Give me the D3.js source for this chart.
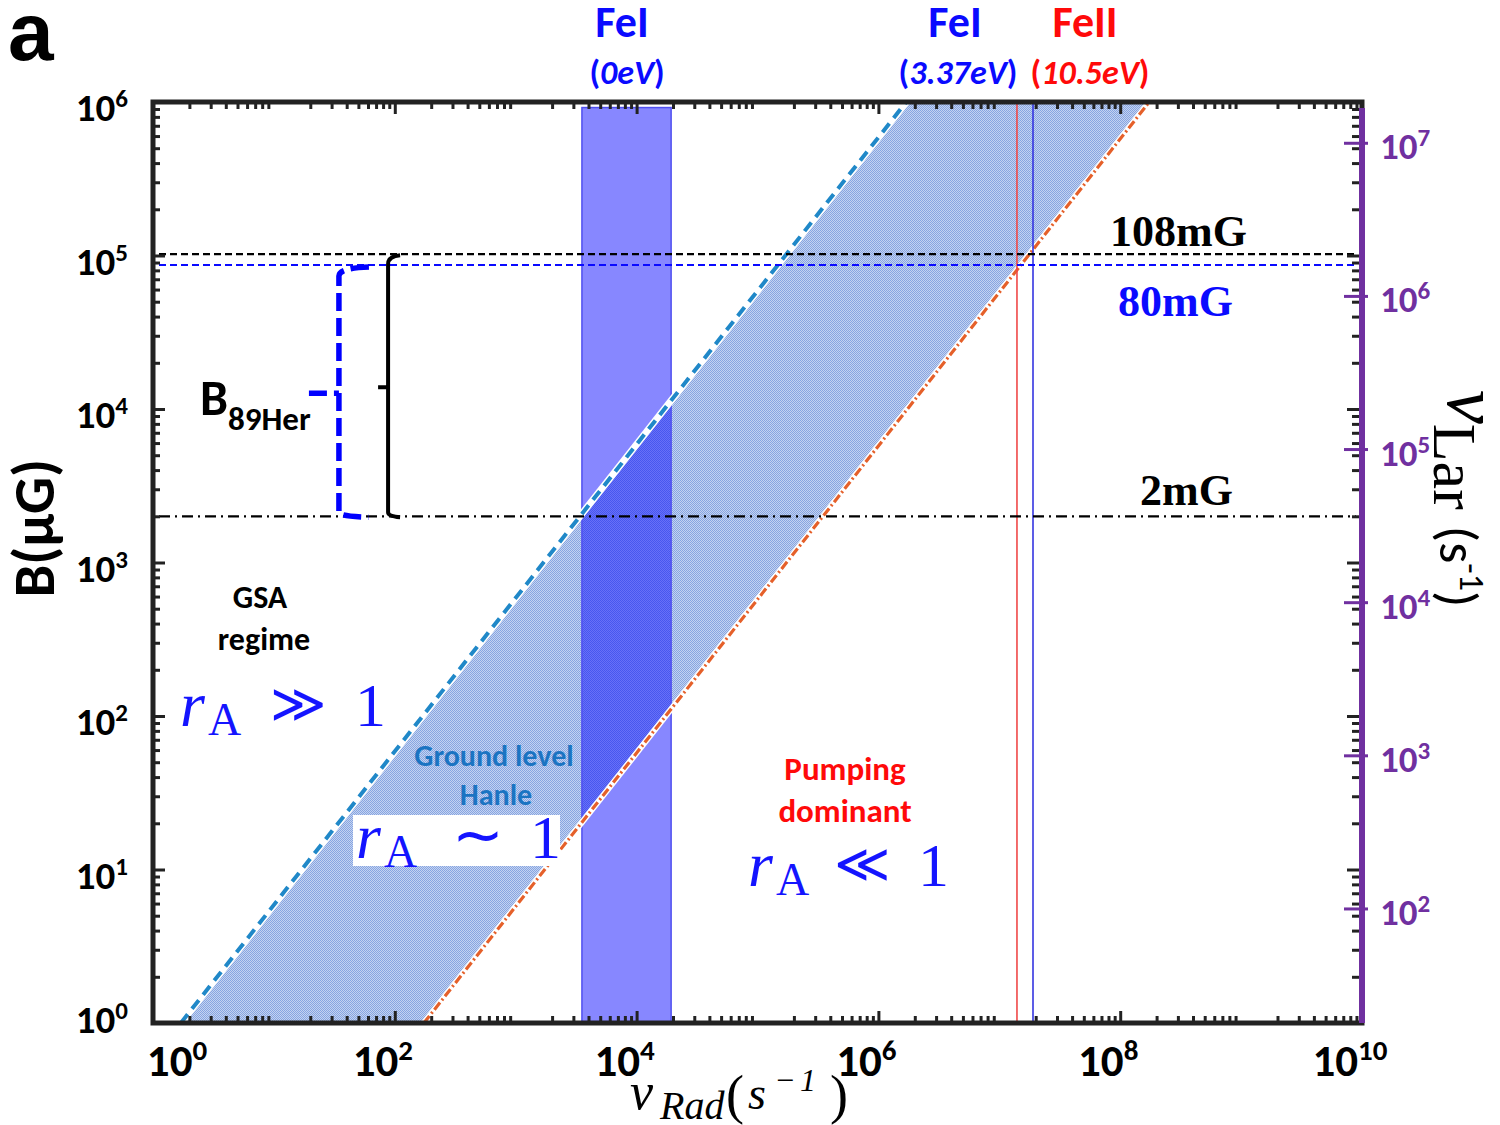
<!DOCTYPE html>
<html>
<head>
<meta charset="utf-8">
<script src="https://cdn.jsdelivr.net/npm/d3@7"></script>
<style>
body { margin: 0; background: #fff; }
text { font-family: Carlito, Lato, "Open Sans", sans-serif; }
.serif { font-family: "Liberation Serif", "DejaVu Serif", serif; }
</style>
</head>
<body>
<svg id="chart" width="1500" height="1125"></svg>
<script>
// ---- data ----
var xMajor = [1, 1e2, 1e4, 1e6, 1e8, 1e10];
var xLabelExp = ["0", "2", "4", "6", "8", "10"];
var yMajor = [1, 10, 1e2, 1e3, 1e4, 1e5, 1e6];
var yLabelExp = ["0", "1", "2", "3", "4", "5", "6"];
var larMajor = [1e2, 1e3, 1e4, 1e5, 1e6, 1e7];
var larLabelExp = ["2", "3", "4", "5", "6", "7"];
var larDomain = [18, 1.86e7];

// edges of the ground level Hanle band, [nu, B]
var hanleLeft = [[1.70, 1], [1.70e6, 1e6]];
var hanleRight = [[174, 1], [1.74e8, 1e6]];
// FeI (0eV) radiative rate range
var fe0Band = [3.53e3, 1.93e4];
var fe0Top = 9.2e5;
// other transitions
var transNames = ["FeII (10.5eV)", "FeI (3.37eV)"];
var transNu = [1.40e7, 1.90e7];
var transColor = ["#f04848", "#3535e0"];
// field strengths (muG)
var fieldNames = ["108mG", "80mG", "2mG"];
var fieldB = [1.02e5, 8.67e4, 2e3];
var fieldColor = ["#000", "#0a0aff", "#000"];
var fieldDash = ["7,4", "7,4", "11,5,2,5"];
// B 89Her brackets: nu position, low, high
var bracketNu = [88, 34.5];
var bracketLo = [2e3, 2e3];
var bracketHi = [9.6e4, 8.05e4];

var svg = d3.select("#chart");
var pL = 153, pR = 1362, pT = 102, pB = 1023;

var x = d3.scaleLog().domain([1, 1e10]).range([pL, pR]);
var y = d3.scaleLog().domain([1, 1e6]).range([pB, pT]);
var yR = d3.scaleLog().domain(larDomain).range([pB, pT]);

function minorTicks(from, to) {
    var t = [];
    for (var e = from; e < to; e++)
        for (var k = 2; k <= 9; k++) t.push(k * Math.pow(10, e));
    return t;
}

var defs = svg.append("defs");
var pat = defs.append("pattern").attr("id", "dots")
    .attr("width", 2).attr("height", 2).attr("patternUnits", "userSpaceOnUse");
pat.append("rect").attr("width", 2).attr("height", 2).attr("fill", "#d6e0f5").attr("shape-rendering", "crispEdges");
pat.append("rect").attr("width", 1).attr("height", 1).attr("fill", "#7093db").attr("shape-rendering", "crispEdges");
pat.append("rect").attr("x", 1).attr("y", 1).attr("width", 1).attr("height", 1).attr("fill", "#7093db").attr("shape-rendering", "crispEdges");
defs.append("clipPath").attr("id", "plotclip").append("rect")
    .attr("x", pL).attr("y", pT).attr("width", pR - pL).attr("height", pB - pT);

var plot = svg.append("g").attr("clip-path", "url(#plotclip)");

// hanle band
var band = hanleLeft.concat(hanleRight.slice().reverse());
plot.append("path")
    .attr("d", d3.line().x(d => x(d[0])).y(d => y(d[1]))(band) + "Z")
    .attr("fill", "#a9bfea");
plot.append("path")
    .attr("d", d3.line().x(d => x(d[0])).y(d => y(d[1]))(band) + "Z")
    .attr("fill", "url(#dots)").attr("fill-opacity", 0.6);

// FeI (0eV) band
plot.append("rect")
    .attr("x", x(fe0Band[0])).attr("width", x(fe0Band[1]) - x(fe0Band[0]))
    .attr("y", y(fe0Top)).attr("height", y(1) - y(fe0Top))
    .attr("fill", "#0000ff").attr("fill-opacity", 0.47)
    .attr("stroke", "#5050f0").attr("stroke-width", 1.5);

// band edges with white halo
var line = d3.line().x(d => x(d[0])).y(d => y(d[1]));
plot.append("path").attr("d", line(hanleLeft)).attr("stroke", "#fff").attr("stroke-width", 7).attr("fill", "none");
plot.append("path").attr("d", line(hanleLeft)).attr("stroke", "#2088c8").attr("stroke-width", 4)
    .attr("stroke-dasharray", "11,7").attr("fill", "none");
plot.append("path").attr("d", line(hanleRight)).attr("stroke", "#fff").attr("stroke-width", 6).attr("fill", "none");
plot.append("path").attr("d", line(hanleRight)).attr("stroke", "#e5602a").attr("stroke-width", 3.2)
    .attr("stroke-dasharray", "9,3,2,3").attr("fill", "none");

// transition lines
plot.selectAll(".trans").data(transNu).join("line")
    .attr("x1", d => x(d)).attr("x2", d => x(d))
    .attr("y1", pT).attr("y2", pB)
    .attr("stroke", (d, i) => transColor[i]).attr("stroke-width", 1.6);

// field lines
plot.selectAll(".field").data(fieldB).join("line")
    .attr("x1", pL + 6).attr("x2", pR - 6)
    .attr("y1", d => y(d)).attr("y2", d => y(d))
    .attr("stroke", (d, i) => fieldColor[i]).attr("stroke-width", 2.2)
    .attr("stroke-dasharray", (d, i) => fieldDash[i]);

// brackets
function bracketPath(nu, lo, hi, hook, tick) {
    var bx = x(nu), yl = y(lo), yh = y(hi), ym = y(Math.sqrt(lo * hi));
    return "M" + (bx + hook) + "," + (yh - 3) + " Q" + bx + "," + (yh - 2) + " " + bx + "," + (yh + 6) +
        " L" + bx + "," + (yl - 4) + " Q" + bx + "," + yl + " " + (bx + hook) + "," + (yl + 1) +
        " M" + (bx - tick) + "," + ym + " L" + bx + "," + ym;
}
svg.append("path").attr("d", bracketPath(bracketNu[0], bracketLo[0], bracketHi[0], 12, 10))
    .attr("stroke", "#000").attr("stroke-width", 4).attr("fill", "none");
svg.append("path").attr("d", bracketPath(bracketNu[1], bracketLo[1], bracketHi[1], 30, 30))
    .attr("stroke", "#0000ff").attr("stroke-width", 5.5).attr("fill", "none")
    .attr("stroke-dasharray", "18,7");

// ---- axes: inward ticks on all four sides ----
var xMinor = minorTicks(0, 10);
var yMinor = minorTicks(0, 6);
function addAxis(gen, scale, vals, size, transform) {
    svg.append("g").attr("transform", transform)
        .call(gen(scale).tickValues(vals).tickSizeInner(-size).tickSizeOuter(0).tickFormat(""))
        .call(g => g.select(".domain").remove())
        .call(g => g.selectAll("line").attr("stroke", "#222").attr("stroke-width", 3));
}
addAxis(d3.axisBottom, x, xMajor, 12, "translate(0," + pB + ")");
addAxis(d3.axisBottom, x, xMinor, 7, "translate(0," + pB + ")");
addAxis(d3.axisTop, x, xMajor, 12, "translate(0," + pT + ")");
addAxis(d3.axisTop, x, xMinor, 7, "translate(0," + pT + ")");
addAxis(d3.axisLeft, y, yMajor, 12, "translate(" + pL + ",0)");
addAxis(d3.axisLeft, y, yMinor, 7, "translate(" + pL + ",0)");
addAxis(d3.axisRight, y, yMajor, 12, "translate(" + (pR - 3) + ",0)");
addAxis(d3.axisRight, y, yMinor, 7, "translate(" + (pR - 3) + ",0)");

svg.append("rect").attr("x", pL).attr("y", pT)
    .attr("width", pR - pL).attr("height", pB - pT)
    .attr("fill", "none").attr("stroke", "#222").attr("stroke-width", 5);

// right purple Larmor axis
var purple = "#7030a0";
svg.append("line").attr("x1", pR).attr("x2", pR)
    .attr("y1", pT + 6).attr("y2", pB).attr("stroke", purple).attr("stroke-width", 6);
svg.append("g").selectAll("line").data(larMajor).join("line")
    .attr("x1", pR - 18).attr("x2", pR + 6)
    .attr("y1", d => yR(d)).attr("y2", d => yR(d))
    .attr("stroke", purple).attr("stroke-width", 3);

// tick labels
function powLabel(sel, base, exp, supSize, up) {
    sel.append("tspan").text(base);
    sel.append("tspan").attr("dy", -up).attr("font-size", supSize).text(exp);
}
svg.append("g").selectAll("text").data(xMajor).join("text")
    .attr("x", (d, i) => i === 0 ? x(d) + 24 : x(d) - 12)
    .attr("y", 1076).attr("text-anchor", "middle")
    .attr("font-size", 45).attr("font-weight", "bold")
    .each(function (d, i) { powLabel(d3.select(this), "10", xLabelExp[i], 29, 16); });

svg.append("g").selectAll("text").data(yMajor).join("text")
    .attr("x", 128).attr("y", (d, i) => i === 0 ? y(d) + 10 : y(d) + 19)
    .attr("text-anchor", "end")
    .attr("font-size", 39).attr("font-weight", "bold")
    .each(function (d, i) { powLabel(d3.select(this), "10", yLabelExp[i], 25, 14); });

svg.append("g").selectAll("text").data(larMajor).join("text")
    .attr("x", 1380).attr("y", d => yR(d) + 16)
    .attr("font-size", 37).attr("font-weight", "bold").attr("fill", purple)
    .each(function (d, i) { powLabel(d3.select(this), "10", larLabelExp[i], 25, 13); });

// axis titles
svg.append("text").attr("transform", "translate(54,528) rotate(-90)")
    .attr("text-anchor", "middle").attr("font-size", 58).attr("font-weight", "bold")
    .text("B(\u03bcG)");

var xt = svg.append("text").attr("class", "serif").attr("y", 1109).attr("font-style", "italic");
xt.append("tspan").attr("x", 630).attr("font-size", 52).text("\u03bd");
xt.append("tspan").attr("x", 660).attr("dy", 10).attr("font-size", 40).text("Rad");
xt.append("tspan").attr("x", 726).attr("dy", -6).attr("font-size", 54).attr("font-style", "normal").text("(");
xt.append("tspan").attr("x", 748).attr("dy", -4).attr("font-size", 46).text("s");
xt.append("tspan").attr("x", 774).attr("dy", -18).attr("font-size", 32).text("\u2212");
xt.append("tspan").attr("x", 800).attr("font-size", 32).text("1");
xt.append("tspan").attr("x", 830).attr("dy", 22).attr("font-size", 54).attr("font-style", "normal").text(")");

var rt = svg.append("text").attr("class", "serif").attr("transform", "translate(1448,390) rotate(90)");
rt.append("tspan").attr("font-size", 76).attr("font-style", "italic").text("\u03bd");
rt.append("tspan").attr("dy", 14).attr("font-size", 62).text("Lar");
rt.append("tspan").attr("dx", 16).attr("dy", -6).attr("font-size", 54)
    .style("font-family", "Carlito, Lato, sans-serif").text("(s");
rt.append("tspan").attr("dy", -20).attr("font-size", 34)
    .style("font-family", "Carlito, Lato, sans-serif").text("-1");
rt.append("tspan").attr("dy", 20).attr("font-size", 54)
    .style("font-family", "Carlito, Lato, sans-serif").text(")");

// panel letter
svg.append("text").attr("x", 8).attr("y", 60).attr("font-size", 82).attr("font-weight", "bold")
    .style("font-family", "'Liberation Sans', Arial, sans-serif").text("a");

// transition labels on top
var topLabels = [
    {t: "FeI", x: 622, y: 37, c: "#0a0aff", s: 44},
    {t: "FeI", x: 955, y: 37, c: "#0a0aff", s: 44},
    {t: "FeII", x: 1085, y: 37, c: "#ff0a0a", s: 44}
];
svg.append("g").selectAll("text").data(topLabels).join("text")
    .attr("x", d => d.x).attr("y", d => d.y).attr("text-anchor", "middle")
    .attr("font-size", d => d.s).attr("font-weight", "bold").attr("fill", d => d.c).text(d => d.t);
var eLabels = [
    {t: "0eV", x: 627, c: "#0a0aff"},
    {t: "3.37eV", x: 958, c: "#0a0aff"},
    {t: "10.5eV", x: 1090, c: "#ff0a0a"}
];
svg.append("g").selectAll("text").data(eLabels).join("text")
    .attr("x", d => d.x).attr("y", 84).attr("text-anchor", "middle")
    .attr("font-size", 34).attr("font-weight", "bold").attr("fill", d => d.c)
    .each(function (d) {
        var s = d3.select(this);
        s.append("tspan").text("(");
        s.append("tspan").attr("font-style", "italic").text(d.t);
        s.append("tspan").text(")");
    });

// field labels
var fieldLabelX = [1110, 1118, 1140];
var fieldLabelY = [246, 316, 505];
svg.append("g").selectAll("text").data(fieldNames).join("text")
    .attr("class", "serif")
    .attr("x", (d, i) => fieldLabelX[i]).attr("y", (d, i) => fieldLabelY[i])
    .attr("font-size", 44).attr("font-weight", "bold")
    .attr("fill", (d, i) => fieldColor[i]).text(d => d);

// B89Her
var bt = svg.append("text").attr("x", 200).attr("y", 415).attr("font-weight", "bold");
bt.append("tspan").attr("font-size", 50).text("B");
bt.append("tspan").attr("dy", 15).attr("font-size", 33).text("89Her");

// regime texts
function centerText(t, cx, cy, size, color) {
    svg.append("text").attr("x", cx).attr("y", cy).attr("text-anchor", "middle")
        .attr("font-size", size).attr("font-weight", "bold").attr("fill", color).text(t);
}
centerText("GSA", 260, 608, 32, "#000");
centerText("regime", 264, 650, 32, "#000");
centerText("Ground level", 494, 766, 30, "#1b74c2");
centerText("Hanle", 496, 805, 30, "#1b74c2");
centerText("Pumping", 845, 780, 33, "#ff0a0a");
centerText("dominant", 845, 822, 33, "#ff0a0a");

// r_A expressions
svg.append("rect").attr("x", 353).attr("y", 815).attr("width", 207).attr("height", 51).attr("fill", "#fff");
function rA(x0, base, rel, relX, oneX, relFont, relSize, relDy) {
    var g = svg.append("g").attr("fill", "#1414ff");
    g.append("text").attr("class", "serif").attr("x", x0).attr("y", base)
        .attr("font-size", 64).attr("font-style", "italic").text("r");
    g.append("text").attr("class", "serif").attr("x", x0 + 28).attr("y", base + 9)
        .attr("font-size", 46).text("A");
    g.append("text").attr("x", relX).attr("y", base + relDy)
        .style("font-family", relFont)
        .attr("font-size", relSize).text(rel);
    g.append("text").attr("class", "serif").attr("x", oneX).attr("y", base)
        .attr("font-size", 62).text("1");
}
rA(180, 726, "\u226b", 270, 355, "'DejaVu Sans', sans-serif", 54, -4);
rA(356, 858, "\u223c", 452, 530, "'DejaVu Sans', sans-serif", 62, -2);
rA(748, 886, "\u226a", 834, 918, "'DejaVu Sans', sans-serif", 54, -4);
</script>
</body>
</html>
